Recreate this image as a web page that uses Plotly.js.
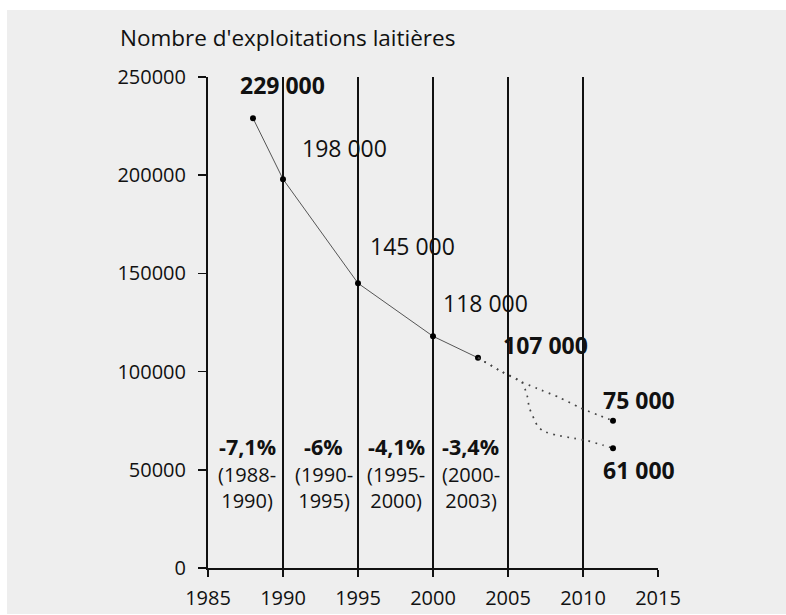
<!DOCTYPE html>
<html>
<head>
<meta charset="utf-8">
<script src="https://cdn.plot.ly/plotly-3.0.1.min.js"></script>
<style>html,body{margin:0;padding:0;background:#fff;}#chart{width:786px;height:615px;}</style>
</head>
<body>
<div id="chart"></div>
<script>
// ---- data ----
const years = [1988, 1990, 1995, 2000, 2003];
const farms = [229000, 198000, 145000, 118000, 107000];
const farmLabels = ["229 000", "198 000", "145 000", "118 000", "107 000"];
const farmLabelBold = [true, false, false, false, true];

const projHighX = [2003, 2004.6, 2005.9, 2007.2, 2008.4, 2009.75, 2011, 2012];
const projHighY = [107000, 99900, 94800, 90600, 86900, 81800, 77900, 75000];
const projLowX = [2003, 2004.6, 2005.9, 2006.27, 2006.42, 2006.75, 2006.97, 2007.35, 2008.2, 2009.42, 2010.3, 2011.3, 2012];
const projLowY = [107000, 99900, 94800, 88000, 81600, 75700, 72300, 69700, 67700, 66000, 64800, 62600, 61000];
const projLabels = ["75 000", "61 000"];

const rates = ["-7,1%", "-6%", "-4,1%", "-3,4%"];
const periodStart = ["1988", "1990", "1995", "2000"];
const periodEnd = ["1990", "1995", "2000", "2003"];

const xTicks = [1985, 1990, 1995, 2000, 2005, 2010, 2015];
const yTicks = [0, 50000, 100000, 150000, 200000, 250000];
const titleText = "Nombre d'exploitations laitières";

// ---- layout config (positions / styles) ----
const FONT = "Open Sans, sans-serif";
const INK = "#111111";
const L = 208, T = 77, PW = 450, PH = 491;
const farmLabelShift = [[29, 33], [61, 31], [54, 37], [52, 33], [67, 13]];
const projLabelShift = [[26, 21], [26, -22]];
const rateColX = [1987.6, 1992.7, 1997.55, 2002.5];
const rateY = 62100, periodY = 41200;

const traces = [
  { x: years, y: farms, type: 'scatter', mode: 'lines+markers',
    line: { color: '#555555', width: 1 },
    marker: { color: '#000000', size: 6 }, hoverinfo: 'skip' },
  { x: projHighX, y: projHighY, type: 'scatter', mode: 'lines',
    line: { color: '#444444', width: 1.7, dash: '1.7px,5.5px', shape: 'spline', smoothing: 0.6 }, hoverinfo: 'skip' },
  { x: projLowX, y: projLowY, type: 'scatter', mode: 'lines',
    line: { color: '#444444', width: 1.7, dash: '1.7px,5.5px', shape: 'spline', smoothing: 0.6 }, hoverinfo: 'skip' },
  { x: [projHighX[projHighX.length-1], projLowX[projLowX.length-1]],
    y: [projHighY[projHighY.length-1], projLowY[projLowY.length-1]],
    type: 'scatter', mode: 'markers', marker: { color: '#000000', size: 6 }, hoverinfo: 'skip' }
];

const annotations = [];
years.forEach((yr, i) => {
  annotations.push({ x: yr, y: farms[i], xref: 'x', yref: 'y', showarrow: false,
    text: farmLabelBold[i] ? '<b>' + farmLabels[i] + '</b>' : farmLabels[i],
    xanchor: 'center', yanchor: 'middle', xshift: farmLabelShift[i][0], yshift: farmLabelShift[i][1],
    font: { family: FONT, size: 23, color: INK } });
});
[[projHighX, projHighY], [projLowX, projLowY]].forEach((p, i) => {
  annotations.push({ x: p[0][p[0].length-1], y: p[1][p[1].length-1], xref: 'x', yref: 'y', showarrow: false,
    text: '<b>' + projLabels[i] + '</b>', xanchor: 'center', yanchor: 'middle',
    xshift: projLabelShift[i][0], yshift: projLabelShift[i][1],
    font: { family: FONT, size: 23, color: INK } });
});
rates.forEach((r, i) => {
  annotations.push({ x: rateColX[i], y: rateY, xref: 'x', yref: 'y', showarrow: false,
    text: '<b>' + r + '</b>', xanchor: 'center', yanchor: 'middle',
    font: { family: FONT, size: 21.5, color: INK } });
  annotations.push({ x: rateColX[i], y: periodY, xref: 'x', yref: 'y', showarrow: false,
    text: '(' + periodStart[i] + '-<br>' + periodEnd[i] + ')', xanchor: 'center', yanchor: 'middle',
    align: 'center', font: { family: FONT, size: 20, color: INK } });
});

const layout = {
  width: 786, height: 615,
  margin: { l: L, r: 786 - L - PW, t: T, b: 615 - T - PH, pad: 0 },
  paper_bgcolor: '#ffffff',
  plot_bgcolor: 'rgba(0,0,0,0)',
  showlegend: false,
  font: { family: FONT, color: INK, size: 20 },
  title: { text: titleText, xref: 'container', yref: 'container', x: 120/786, xanchor: 'left',
           y: 1 - 38/615, yanchor: 'middle', font: { family: FONT, size: 22.5, color: INK } },
  xaxis: { range: [1985, 2015], tickmode: 'array', tickvals: xTicks, ticktext: xTicks.map(String),
           showgrid: true, gridcolor: INK, gridwidth: 2, zeroline: false,
           showline: true, linecolor: INK, linewidth: 2,
           ticks: 'outside', ticklen: 7, tickwidth: 1.5, tickcolor: INK,
           ticklabelstandoff: 4, tickfont: { family: FONT, size: 20, color: INK }, fixedrange: true },
  yaxis: { range: [0, 250000], tickmode: 'array', tickvals: yTicks, ticktext: yTicks.map(String),
           showgrid: false, zeroline: false,
           showline: true, linecolor: INK, linewidth: 2,
           ticks: 'outside', ticklen: 8, tickwidth: 1.5, tickcolor: INK,
           ticklabelstandoff: 8, tickfont: { family: FONT, size: 20, color: INK }, fixedrange: true },
  shapes: [
    { type: 'rect', xref: 'paper', yref: 'paper', layer: 'below',
      x0: (7 - L) / PW, x1: (786 - L) / PW,
      y0: (T + PH - 614) / PH, y1: (T + PH - 10) / PH,
      fillcolor: '#eeeeee', line: { width: 0 } }
  ],
  annotations: annotations
};

Plotly.newPlot('chart', traces, layout, { staticPlot: true, displayModeBar: false });
</script>
</body>
</html>
